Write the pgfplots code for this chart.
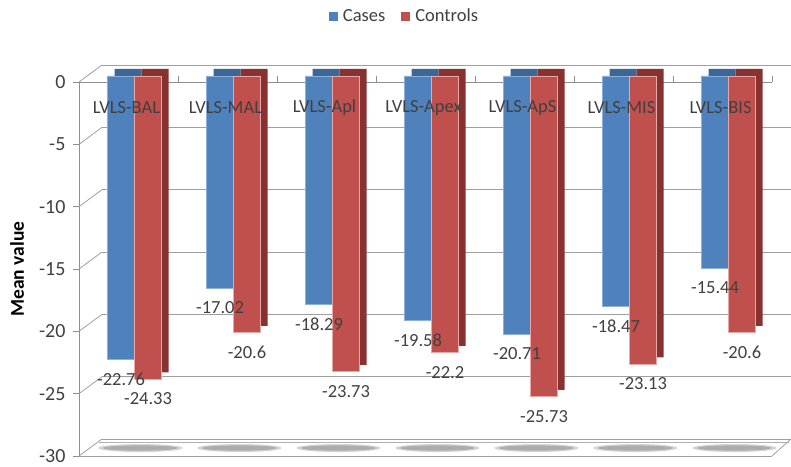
\documentclass[border=0pt]{standalone}
\usepackage{pgfplots}
\usepackage{pgfplotstable}
\pgfplotsset{compat=1.18}
\usepackage{fontspec}
\setmainfont{Carlito}

\definecolor{casesblue}{HTML}{4F81BD}
\definecolor{casesdark}{HTML}{3B6696}
\definecolor{casesedge}{HTML}{8DB0DA}
\definecolor{ctrlred}{HTML}{C0504D}
\definecolor{ctrldark}{HTML}{873230}
\definecolor{ctrledge}{HTML}{E8A8A6}
\definecolor{gridgray}{HTML}{8E8E8E}
\definecolor{txtgray}{HTML}{404040}

% shared geometry of the plot box
\pgfplotsset{
  chartbox/.style={
    at={(0pt,0pt)}, anchor=south west,
    scale only axis, width=693pt, height=374pt,
    xmin=-0.48, xmax=6.52, ymin=-30, ymax=0,
    clip=false,
  },
}

% Mean values per measurement
\pgfplotstableread{
idx cases controls
0 -22.76 -24.33
1 -17.02 -20.6
2 -18.29 -23.73
3 -19.58 -22.2
4 -20.71 -25.73
5 -18.47 -23.13
6 -15.44 -20.6
}\meanvalues

\begin{document}
\begin{tikzpicture}[font=\fontsize{18.5}{22}\selectfont]
\begin{axis}[
  chartbox,
  ybar, bar width=27pt,
  axis x line*=top, axis y line*=left,
  axis line style={gridgray, line width=0.9pt},
  major tick length=6pt,
  xtick={0.52,1.52,2.52,3.52,4.52,5.52,6.52},
  xticklabels={},
  xtick style={gridgray, line width=0.9pt},
  ytick={-30,-25,-20,-15,-10,-5,0},
  ytick style={gridgray, line width=0.9pt, xshift=-6pt},
  yticklabel style={text=txtgray, xshift=-10pt, font=\fontsize{20}{24}\selectfont},
  /pgf/number format/assume math mode=true,
  ymajorgrids,
  major grid style={gridgray!85, line width=0.8pt, shift={(23pt,17pt)}},
  every axis y label/.style={at={(axis description cs:0,0.5)}, xshift=-62pt, rotate=90, anchor=center,
    font=\fontsize{19.5}{23}\selectfont\bfseries},
  ylabel={Mean value},
  legend columns=2,
  legend style={at={(axis description cs:0.4697,1.176)}, anchor=center,
    draw=none, fill=none, text=txtgray,
    /tikz/every even column/.append style={column sep=14pt},
    /tikz/every odd column/.append style={column sep=3pt}},
  legend image code/.code={\fill[#1, draw=none, yshift=-6pt] (0pt,-4.5pt) rectangle (9pt,4.5pt);},
]

% left side wall edges
\pgfplotsinvokeforeach{-30,-25,-20,-15,-10,-5,0}{
  \draw[gridgray!85, line width=0.8pt] (axis cs:-0.48,#1) -- ++(23pt,17pt);
}
% floor slab
\draw[gridgray!85, line width=0.8pt] (axis cs:6.52,-30) -- ++(19pt,17pt);
\draw[gridgray!70, line width=0.6pt] (axis cs:-0.48,-30) ++(20pt,14pt) -- ([xshift=17pt,yshift=14pt]axis cs:6.52,-30);
\draw[gridgray!85, line width=0.9pt] (axis cs:-0.48,-30) -- (axis cs:6.52,-30);
% bar shadows on the floor
\pgfplotsinvokeforeach{0.14,1.14,2.14,3.14,4.14,5.14,6.14}{
  \fill[gray!35] (axis cs:#1,-29.36) ellipse [x radius=42pt, y radius=4pt];
  \fill[gray!65] (axis cs:#1,-29.36) ellipse [x radius=37pt, y radius=2.6pt];
}

% depth faces (top and side)
\addplot[forget plot, fill=casesdark, draw=none, bar shift=1.5pt, yshift=13pt]
  table[x=idx, y=cases] {\meanvalues};
\addplot[forget plot, fill=ctrldark, draw=none, bar shift=28.5pt, yshift=13pt]
  table[x=idx, y=controls] {\meanvalues};

% front faces
\addplot[fill=casesblue, draw=casesedge, line width=0.7pt, bar shift=-5.5pt, yshift=6pt]
  table[x=idx, y=cases] {\meanvalues};
\addlegendentry{Cases}
\addplot[fill=ctrlred, draw=ctrledge, line width=0.7pt, bar shift=21.5pt, yshift=6pt]
  table[x=idx, y=controls] {\meanvalues};
\addlegendentry{Controls}

% value labels, drawn last so they sit above the bars
\addplot[forget plot, draw=none, fill=none, bar shift=-5.5pt, yshift=6pt,
  point meta=y, nodes near coords,
  every node near coord/.append style={anchor=north, yshift=-10pt, text=txtgray}]
  table[x=idx, y=cases] {\meanvalues};
\addplot[forget plot, draw=none, fill=none, bar shift=21.5pt, yshift=6pt,
  point meta=y, nodes near coords,
  every node near coord/.append style={anchor=north, yshift=-10pt, text=txtgray}]
  table[x=idx, y=controls] {\meanvalues};
\end{axis}

% category names, set over the bars
\begin{axis}[
  chartbox,
  hide y axis,
  axis x line*=top,
  x axis line style={draw=none},
  xtick={0,1,2,3,4,5,6},
  xticklabels={LVLS-BAL,LVLS-MAL,LVLS-Apl,LVLS-Apex,LVLS-ApS,LVLS-MIS,LVLS-BIS},
  xtick style={draw=none},
  major tick length=0pt,
  xticklabel style={anchor=center, yshift=-26pt, text=txtgray},
]
\end{axis}
\pgfresetboundingbox
\path[use as bounding box] (-79pt,-10pt) rectangle (712pt,456pt);
\end{tikzpicture}
\end{document}
